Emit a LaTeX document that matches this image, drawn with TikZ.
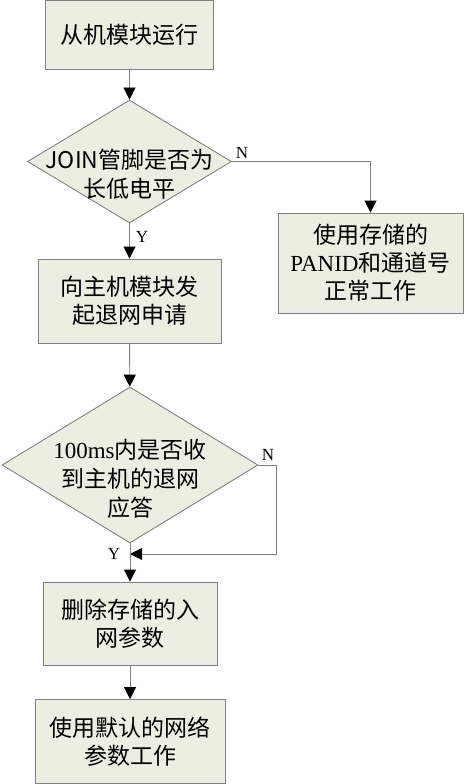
\documentclass[tikz,border=0pt]{standalone}
\usepackage{fontspec}
\setmainfont{Noto Sans CJK SC}
\newfontfamily\latinserif{Liberation Serif}
\usetikzlibrary{arrows.meta, positioning, shapes.geometric}
\definecolor{cfill}{HTML}{EBEEE0}
\definecolor{cline}{HTML}{808080}
\tikzset{
  every picture/.style={x=1pt, y=1pt, line width=0.9pt},
  proc/.style={draw=cline, fill=cfill, align=center, inner sep=0pt, font=\fontsize{23}{28}\selectfont},
  decision/.style={diamond, draw=cline, fill=cfill, inner sep=0pt},
  dtext/.style={align=center, inner sep=0pt, font=\fontsize{23}{29}\selectfont},
  flow/.style={draw=cline, -{Triangle[length=12pt, width=12pt, color=black, fill=black]}},
  yn/.style={inner sep=0pt, font=\latinserif\fontsize{17}{17}\selectfont},
}

\begin{document}
\begin{tikzpicture}
  \useasboundingbox (0,0) rectangle (464,-784);
  % main column
  \node[proc, minimum width=168pt, minimum height=69pt] (run) at (129.5,-35) {从机模块运行};
  \node[decision, minimum width=204pt, minimum height=123pt] (join) at (129.5,-161.5) {};
  \node[dtext] (jointext) at (129.5,-174) {JOIN管脚是否为\\长低电平};
  \node[proc, minimum width=185pt, minimum height=100pt] (keep) at (370.5,-263) {使用存储的\\{\latinserif PANID}和通道号\\正常工作};
  \node[proc, minimum width=183pt, minimum height=84pt] (leave) at (129.5,-301) {向主机模块发\\起退网申请};
  \node[decision, minimum width=256pt, minimum height=156pt] (ack) at (130,-465) {};
  \node[dtext] (acktext) at (130,-479) {{\latinserif 100ms}内是否收\\到主机的退网\\应答};
  \coordinate (merge) at (130,-554);
  \node[proc, minimum width=174pt, minimum height=83pt] (erase) at (130,-623.5) {删除存储的入\\网参数};
  \node[proc, minimum width=190pt, minimum height=84pt] (default) at (130,-741.5) {使用默认的网络\\参数工作};
  % connectors
  \draw[flow] (run) -- (join);
  \draw[flow] (join.east) -| (keep.north);
  \draw[flow] (join) -- (leave);
  \draw[flow] (leave) -- (ack);
  \draw[flow] (ack.east) -- ++(18,0) |- (merge);
  \draw[flow] (ack.south) -- (erase.north);
  \draw[flow] (erase) -- (default);
  % labels
  \node[yn] (joinN) at (242,-153) {N};
  \node[yn] (joinY) at (142,-237) {Y};
  \node[yn] (ackN) at (268,-455) {N};
  \node[yn] (ackY) at (114,-554) {Y};
\end{tikzpicture}
\end{document}
